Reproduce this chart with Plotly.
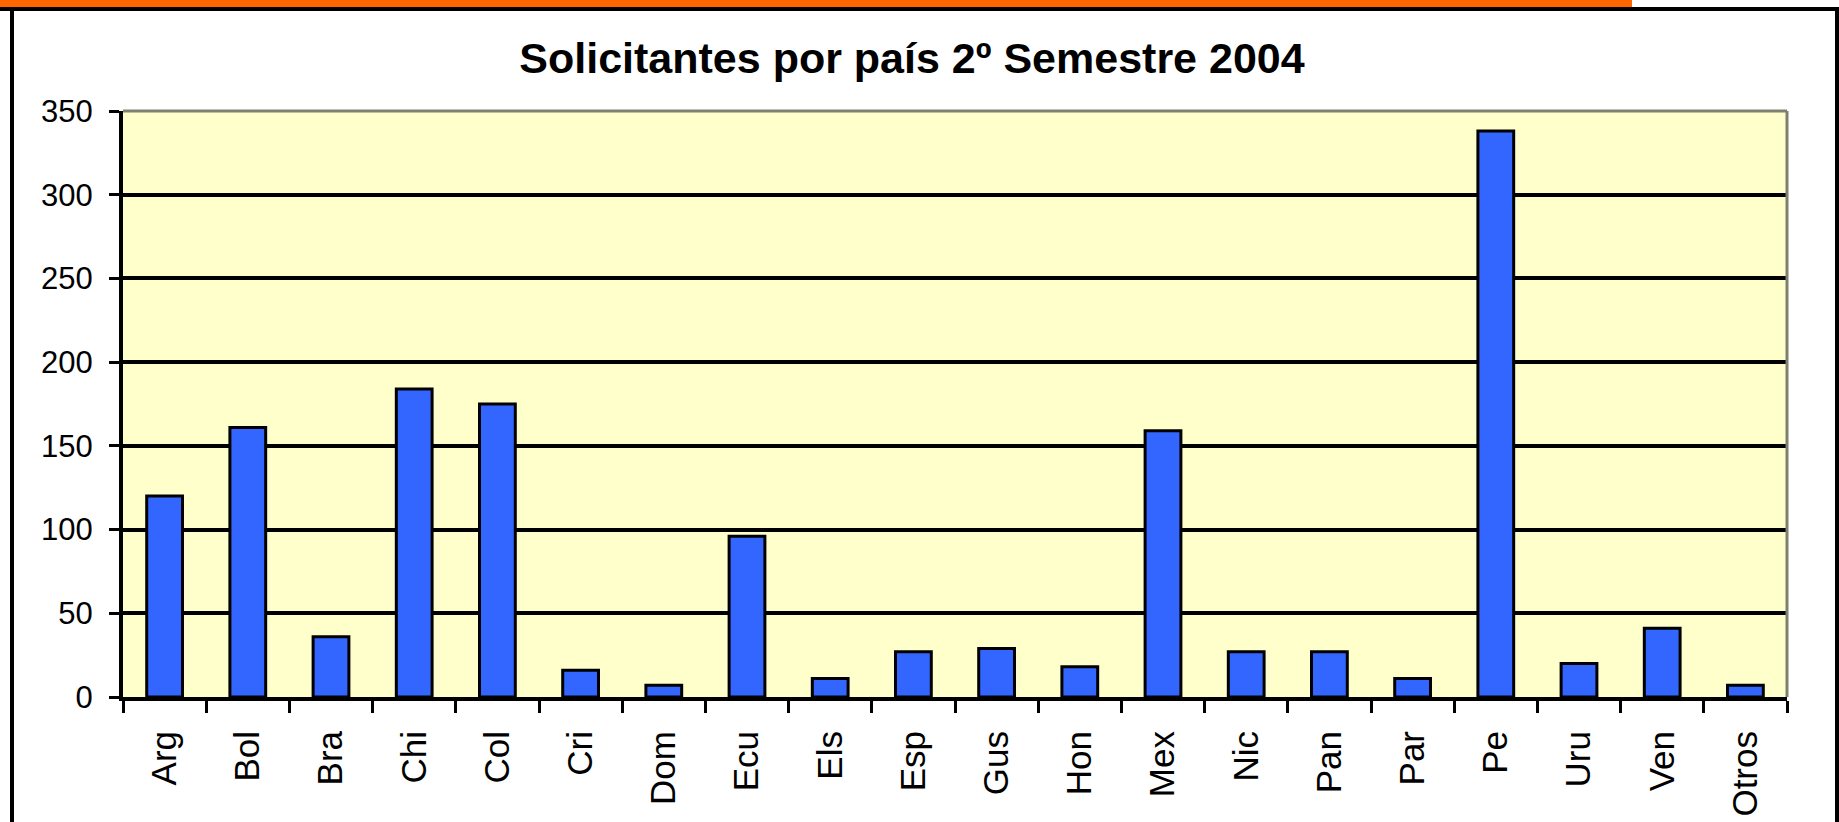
import plotly.graph_objects as go

# ---- data ----
paises = ["Arg", "Bol", "Bra", "Chi", "Col", "Cri", "Dom", "Ecu", "Els", "Esp",
          "Gus", "Hon", "Mex", "Nic", "Pan", "Par", "Pe", "Uru", "Ven", "Otros"]
solicitantes = [120, 161, 36, 184, 175, 16, 7, 96, 11, 27,
                29, 18, 159, 27, 27, 11, 338, 20, 41, 7]
y_ticks = [0, 50, 100, 150, 200, 250, 300, 350]
titulo = "Solicitantes por país 2º Semestre 2004"

W, H = 1839, 822
L, R, T, B = 123, 52, 111, 125
PW, PH = W - L - R, H - T - B


def px_x(px):
    return (px - L) / PW


def px_y(py):
    return (H - B - py) / PH


fig = go.Figure()
fig.add_trace(go.Bar(
    x=paises, y=solicitantes,
    marker=dict(color="#3366FF", line=dict(color="black", width=3)),
    width=0.43,
))

fig.update_layout(
    width=W, height=H,
    margin=dict(l=L, r=R, t=T, b=B, autoexpand=False),
    paper_bgcolor="white",
    plot_bgcolor="#FFFFCC",
    showlegend=False,
    font=dict(family="Liberation Sans", color="black"),
    title=dict(text=titulo, x=px_x(912), xref="paper", xanchor="center",
               y=1 - 58 / H, yanchor="middle",
               font=dict(family="Liberation Sans", size=43, color="black", weight="bold")),
    bargap=0.57,
)

fig.update_xaxes(
    type="category",
    showline=True, linecolor="black", linewidth=4,
    showgrid=False,
    ticks="outside", tickson="boundaries", ticklen=12, tickwidth=3, tickcolor="black",
    tickangle=-90,
    tickfont=dict(family="Liberation Sans", size=35, color="black"),
    ticklabelstandoff=16,
    automargin=False,
)
fig.update_yaxes(
    range=[0, 350],
    tickvals=y_ticks,
    showline=True, linecolor="black", linewidth=4,
    showgrid=True, gridcolor="black", gridwidth=4,
    zeroline=False,
    ticks="outside", ticklen=10, tickwidth=3, tickcolor="black",
    tickfont=dict(family="Liberation Sans", size=31, color="black"),
    ticklabelstandoff=10,
    automargin=False,
)

# gray top/right border of the plot area
fig.add_shape(type="line", xref="paper", yref="paper", x0=0, x1=1, y0=1, y1=1,
              line=dict(color="#808070", width=3))
fig.add_shape(type="line", xref="paper", yref="paper", x0=1, x1=1, y0=0, y1=1,
              line=dict(color="#808070", width=3))

# orange band at the top
fig.add_shape(type="rect", xref="paper", yref="paper",
              x0=px_x(0), x1=px_x(1632), y0=px_y(0), y1=px_y(7),
              fillcolor="#FF6600", line=dict(width=0))
# black frame
fig.add_shape(type="line", xref="paper", yref="paper",
              x0=px_x(0), x1=px_x(1839), y0=px_y(9), y1=px_y(9),
              line=dict(color="black", width=4))
fig.add_shape(type="line", xref="paper", yref="paper",
              x0=px_x(12), x1=px_x(12), y0=px_y(9), y1=px_y(830),
              line=dict(color="black", width=4))
fig.add_shape(type="line", xref="paper", yref="paper",
              x0=px_x(1837), x1=px_x(1837), y0=px_y(9), y1=px_y(830),
              line=dict(color="black", width=4))

fig.write_html(
    "out.html",
    config={"displayModeBar": False},
    post_script="document.body.style.margin='0px';document.body.style.overflow='hidden';",
)
